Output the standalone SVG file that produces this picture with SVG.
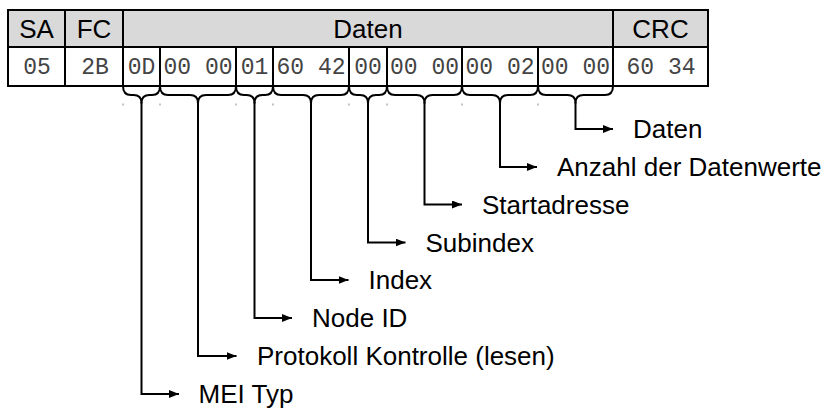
<svg xmlns="http://www.w3.org/2000/svg" width="828" height="409" viewBox="0 0 828 409">
<defs>
<marker id="ah" markerUnits="userSpaceOnUse" markerWidth="11" markerHeight="9" refX="10" refY="4" orient="auto">
<path d="M0,0 L10,4 L0,8 z" fill="#000"/>
</marker>
</defs>
<style>
.hd{fill:#d9d9d9;stroke:#000;stroke-width:2}
.cell{fill:#fff;stroke:#000;stroke-width:2}
.sans{font-family:"Liberation Sans",Arial,sans-serif;font-size:26px;fill:#000}
.mono{font-family:"Liberation Mono","Courier New",monospace;font-size:23px;fill:#444}
.br{fill:none;stroke:#000;stroke-width:2;stroke-linejoin:round}
.ln{fill:none;stroke:#000;stroke-width:2;marker-end:url(#ah)}
.dot{fill:#888}
</style>
<rect width="828" height="409" fill="#fff"/>
<g id="table">
<rect class="hd" x="8" y="10" width="57" height="37"/>
<rect class="hd" x="65" y="10" width="58" height="37"/>
<rect class="hd" x="123" y="10" width="490" height="37"/>
<rect class="hd" x="613" y="10" width="95" height="37"/>
<text class="sans" x="36.5" y="37.5" text-anchor="middle">SA</text>
<text class="sans" x="94" y="37.5" text-anchor="middle">FC</text>
<text class="sans" x="368" y="37.5" text-anchor="middle">Daten</text>
<text class="sans" x="660.5" y="37.5" text-anchor="middle">CRC</text>
<rect class="cell" x="8" y="47" width="57" height="39"/>
<rect class="cell" x="65" y="47" width="58" height="39"/>
<rect class="cell" x="123" y="47" width="37" height="39"/>
<rect class="cell" x="160" y="47" width="76" height="39"/>
<rect class="cell" x="236" y="47" width="37" height="39"/>
<rect class="cell" x="273" y="47" width="76" height="39"/>
<rect class="cell" x="349" y="47" width="38" height="39"/>
<rect class="cell" x="387" y="47" width="75" height="39"/>
<rect class="cell" x="462" y="47" width="76" height="39"/>
<rect class="cell" x="538" y="47" width="75" height="39"/>
<rect class="cell" x="613" y="47" width="95" height="39"/>
<text class="mono" x="37" y="73.5" text-anchor="middle">05</text>
<text class="mono" x="95" y="73.5" text-anchor="middle">2B</text>
<text class="mono" x="141.5" y="73.5" text-anchor="middle">0D</text>
<text class="mono" x="198" y="73.5" text-anchor="middle">00 00</text>
<text class="mono" x="254.5" y="73.5" text-anchor="middle">01</text>
<text class="mono" x="311" y="73.5" text-anchor="middle">60 42</text>
<text class="mono" x="368" y="73.5" text-anchor="middle">00</text>
<text class="mono" x="424.5" y="73.5" text-anchor="middle">00 00</text>
<text class="mono" x="500" y="73.5" text-anchor="middle">00 02</text>
<text class="mono" x="575.5" y="73.5" text-anchor="middle">00 00</text>
<text class="mono" x="661" y="73.5" text-anchor="middle">60 34</text>
</g>
<g id="braces">
<path class="br" d="M123,86 Q123,95 131,95 L133.5,95 Q141.5,95 141.5,103 Q141.5,95 149.5,95 L152,95 Q160,95 160,86"/>
<path class="br" d="M160,86 Q160,95 168,95 L190,95 Q198,95 198,103 Q198,95 206,95 L228,95 Q236,95 236,86"/>
<path class="br" d="M236,86 Q236,95 244,95 L246.5,95 Q254.5,95 254.5,103 Q254.5,95 262.5,95 L265,95 Q273,95 273,86"/>
<path class="br" d="M273,86 Q273,95 281,95 L303,95 Q311,95 311,103 Q311,95 319,95 L341,95 Q349,95 349,86"/>
<path class="br" d="M349,86 Q349,95 357,95 L360,95 Q368,95 368,103 Q368,95 376,95 L379,95 Q387,95 387,86"/>
<path class="br" d="M387,86 Q387,95 395,95 L416.5,95 Q424.5,95 424.5,103 Q424.5,95 432.5,95 L454,95 Q462,95 462,86"/>
<path class="br" d="M462,86 Q462,95 470,95 L492,95 Q500,95 500,103 Q500,95 508,95 L530,95 Q538,95 538,86"/>
<path class="br" d="M538,86 Q538,95 546,95 L567.5,95 Q575.5,95 575.5,103 Q575.5,95 583.5,95 L605,95 Q613,95 613,86"/>
<rect class="dot" x="122.5" y="103.5" width="1" height="2"/>
<rect class="dot" x="159.5" y="103.5" width="1" height="2"/>
<rect class="dot" x="235.5" y="103.5" width="1" height="2"/>
<rect class="dot" x="272.5" y="103.5" width="1" height="2"/>
<rect class="dot" x="348.5" y="103.5" width="1" height="2"/>
<rect class="dot" x="386.5" y="103.5" width="1" height="2"/>
<rect class="dot" x="461.5" y="103.5" width="1" height="2"/>
<rect class="dot" x="537.5" y="103.5" width="1" height="2"/>
</g>
<g id="connectors">
<path class="ln" d="M575.5,102 V129 H613"/>
<path class="ln" d="M500,102 V167 H537"/>
<path class="ln" d="M424.5,102 V204.5 H462"/>
<path class="ln" d="M368,102 V242.5 H405.5"/>
<path class="ln" d="M311,102 V280 H348.5"/>
<path class="ln" d="M254.5,102 V318 H292"/>
<path class="ln" d="M198,102 V356 H236.5"/>
<path class="ln" d="M141.5,102 V394 H179"/>
</g>
<g id="label-daten"><text class="sans" x="633" y="138">Daten</text></g>
<g id="label-anzahl"><text class="sans" x="557" y="176">Anzahl der Datenwerte</text></g>
<g id="label-start"><text class="sans" x="482" y="213.5">Startadresse</text></g>
<g id="label-subindex"><text class="sans" x="425.5" y="251.5">Subindex</text></g>
<g id="label-index"><text class="sans" x="368.5" y="289">Index</text></g>
<g id="label-node"><text class="sans" x="312" y="327">Node ID</text></g>
<g id="label-protokoll"><text class="sans" x="257" y="365">Protokoll Kontrolle (lesen)</text></g>
<g id="label-mei"><text class="sans" x="198.5" y="403">MEI Typ</text></g>
</svg>
